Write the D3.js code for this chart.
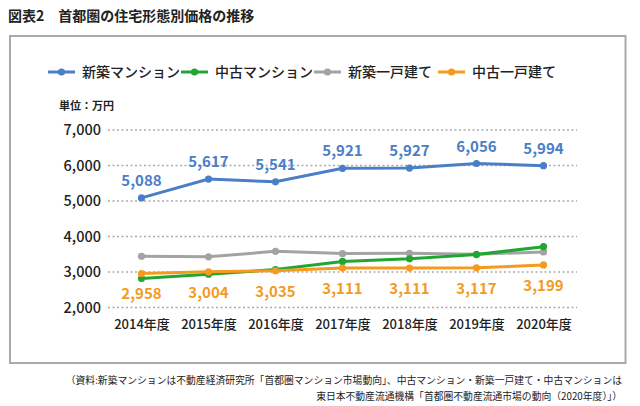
<!DOCTYPE html>
<html><head><meta charset="utf-8">
<script src="https://cdn.jsdelivr.net/npm/d3@7"></script>
<style>
html,body{margin:0;padding:0;background:#fff;}
svg{display:block;font-family:"Noto Sans CJK JP","Noto Sans",sans-serif;}
</style></head>
<body><svg id="c" width="640" height="406"></svg>
<script>
const categories = ["2014年度","2015年度","2016年度","2017年度","2018年度","2019年度","2020年度"];
const seriesNames = ["新築マンション","中古マンション","新築一戸建て","中古一戸建て"];
const newMansion = [5088,5617,5541,5921,5927,6056,5994];
const usedMansion = [2817,2936,3070,3297,3372,3490,3714];
const newHouse = [3444,3427,3583,3519,3528,3500,3566];
const usedHouse = [2958,3004,3035,3111,3111,3117,3199];
const yTicks = [2000,3000,4000,5000,6000,7000];
const colors = ["#4a7ec7","#22a632","#a3a3a3","#f39a1f"];
const title = "図表2　首都圏の住宅形態別価格の推移";
const unitLabel = "単位：万円";
const note1 = "（資料:新築マンションは不動産経済研究所「首都圏マンション市場動向」、中古マンション・新築一戸建て・中古マンションは";
const note2 = "東日本不動産流通機構「首都圏不動産流通市場の動向（2020年度）」）";

const svg = d3.select("#c");
// title
svg.append("text").attr("x",8).attr("y",21).attr("font-size",14).attr("font-weight",700)
  .attr("fill","#222").text(title);
// frame
svg.append("rect").attr("x",10).attr("y",36).attr("width",615.5).attr("height",327)
  .attr("fill","none").attr("stroke","#aaa").attr("stroke-width",2);

const x = d3.scalePoint().domain(categories).range([108,577]).padding(0.5);
const y = d3.scaleLinear().domain([2000,7000]).range([307.5,130]);

// gridlines
const grid = svg.append("g");
grid.selectAll("line").data(yTicks).join("line")
  .attr("x1",108).attr("x2",577).attr("y1",d=>y(d)).attr("y2",d=>y(d))
  .attr("stroke","#aaa").attr("stroke-width",1.3).attr("stroke-dasharray","2,2.5");

// y axis
const yAxis = svg.append("g").attr("transform","translate(101,0)")
  .call(d3.axisLeft(y).tickValues(yTicks).tickSize(0).tickPadding(0).tickFormat(d3.format(",")));
yAxis.select(".domain").remove();
yAxis.selectAll("text").attr("font-size",14.5).attr("fill","#222").attr("font-weight",500)
  .attr("font-family","'Noto Sans CJK JP',sans-serif");

// x axis
const xAxis = svg.append("g").attr("transform","translate(0,320)")
  .call(d3.axisBottom(x).tickSize(0).tickPadding(0));
xAxis.select(".domain").remove();
xAxis.selectAll("text").attr("font-size",13).attr("fill","#222").attr("font-weight",500)
  .attr("font-family","'Noto Sans CJK JP',sans-serif");

svg.append("text").attr("x",59).attr("y",110).attr("font-size",11).attr("font-weight",700)
  .attr("fill","#222").text(unitLabel);

const allSeries = [newMansion,usedMansion,newHouse,usedHouse];
const drawOrder = [0,2,1,3];
const line = d3.line().x((d,i)=>x(categories[i])).y(d=>y(d));
drawOrder.forEach(k=>{
  const g = svg.append("g");
  g.append("path").datum(allSeries[k]).attr("d",line).attr("fill","none")
    .attr("stroke",colors[k]).attr("stroke-width",3);
  g.selectAll("circle").data(allSeries[k]).join("circle")
    .attr("cx",(d,i)=>x(categories[i])).attr("cy",d=>y(d)).attr("r",3.6).attr("fill",colors[k]);
});

// data labels
svg.append("g").selectAll("text").data(newMansion).join("text")
  .attr("x",(d,i)=>x(categories[i])).attr("y",d=>y(d)-12)
  .attr("text-anchor","middle").attr("font-size",15).attr("font-weight",700)
  .attr("fill",colors[0]).text(d=>d3.format(",")(d));
svg.append("g").selectAll("text").data(usedHouse).join("text")
  .attr("x",(d,i)=>x(categories[i])).attr("y",d=>y(d)+26)
  .attr("text-anchor","middle").attr("font-size",15).attr("font-weight",700)
  .attr("fill",colors[3]).text(d=>d3.format(",")(d));

// legend
const legX = [48,181,314,438];
const leg = svg.append("g");
seriesNames.forEach((n,k)=>{
  const lx = legX[k], ly = 72;
  leg.append("line").attr("x1",lx).attr("x2",lx+27).attr("y1",ly).attr("y2",ly)
    .attr("stroke",colors[k]).attr("stroke-width",3);
  leg.append("circle").attr("cx",lx+13.5).attr("cy",ly).attr("r",3.6).attr("fill",colors[k]);
  leg.append("text").attr("x",lx+34).attr("y",ly+5).attr("font-size",14).attr("font-weight",500)
    .attr("fill","#222").text(n);
});

// notes
svg.append("text").attr("x",622).attr("y",384).attr("text-anchor","end").attr("font-size",9.8)
  .attr("fill","#222").text(note1);
svg.append("text").attr("x",622).attr("y",400).attr("text-anchor","end").attr("font-size",9.8)
  .attr("fill","#222").text(note2);
</script></body></html>
